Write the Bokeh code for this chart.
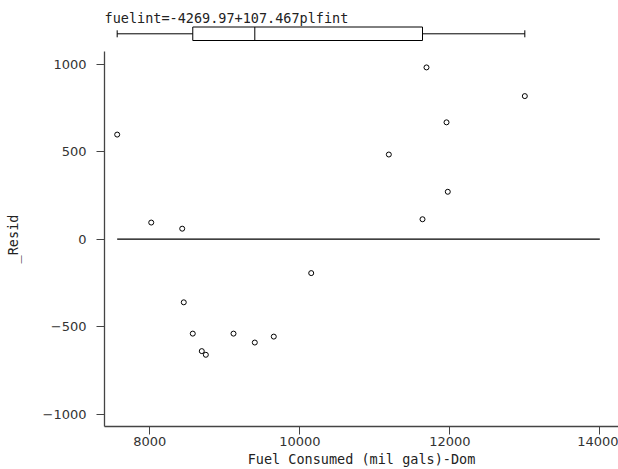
from bokeh.plotting import figure
from bokeh.models import Range1d, FixedTicker, Label, LinearAxis
from bokeh.layouts import column
from bokeh.embed import file_html
from bokeh.resources import INLINE
import numpy as np

# data
fuel = [7565, 8019, 8432, 8453, 8573, 8693, 8747, 9116, 9400, 9653, 10152,
        11187, 11636, 11689, 11956, 11973, 13000]
resid = [598, 95, 60, -361, -540, -640, -661, -540, -591, -557, -194,
         484, 114, 982, 668, 271, 818]
x_ticks = [8000, 10000, 12000, 14000]
y_ticks = [-1000, -500, 0, 500, 1000]
title_text = "fuelint=-4269.97+107.467plfint"
x_label = "Fuel Consumed (mil gals)-Dom"
y_label = "_Resid"
zero_line_end = 14000

MONO = "DejaVu Sans Mono"
SANS = "DejaVu Sans"
AX = "#444444"
W = 618
LEFT = 104
X0, X1 = 7396, 14249
xr = Range1d(X0, X1)

# ---- top strip: equation + box plot of x ----
TOP_H = 51
top = figure(width=W, height=TOP_H, output_backend="svg", toolbar_location=None,
             x_range=xr, y_range=Range1d(start=TOP_H, end=0),
             min_border_left=LEFT, min_border_right=0, min_border_top=0,
             min_border_bottom=0, x_axis_location=None, y_axis_location=None)
top.outline_line_color = None
top.xgrid.visible = False
top.ygrid.visible = False

q0, q1, q2, q3, q4 = np.percentile(fuel, [0, 25, 50, 75, 100])
btop, bbot, bmid = 26.5, 40, 33.3
top.quad(left=[q1], right=[q3], top=[btop], bottom=[bbot],
         fill_color=None, line_color="black", line_width=1)
top.segment(x0=[q2], x1=[q2], y0=[btop], y1=[bbot],
            line_color="black", line_width=1)
top.segment(x0=[q0, q3], x1=[q1, q4], y0=[bmid, bmid], y1=[bmid, bmid],
            line_color="black", line_width=1)
top.segment(x0=[q0, q4], x1=[q0, q4], y0=[bmid - 3.5, bmid - 3.5],
            y1=[bmid + 3.5, bmid + 3.5], line_color="black", line_width=1)
top.add_layout(Label(x=X0, y=17.5, text=title_text, text_font=MONO,
                     text_font_size="13.5px", text_color="#222222",
                     text_baseline="alphabetic", text_align="left"))

# ---- main scatter ----
p = figure(width=W, height=469 - TOP_H, output_backend="svg", toolbar_location=None,
           x_range=xr, y_range=Range1d(-1071, 1073),
           min_border_left=LEFT, min_border_right=0, min_border_top=0,
           min_border_bottom=42, x_axis_location=None, y_axis_location=None)
p.outline_line_color = None
p.xgrid.visible = False
p.ygrid.visible = False

xa = LinearAxis(ticker=FixedTicker(ticks=x_ticks), axis_label=x_label)
ya = LinearAxis(ticker=FixedTicker(ticks=y_ticks), axis_label=y_label)
for ax in (xa, ya):
    ax.axis_line_color = AX
    ax.axis_line_width = 1.3
    ax.major_tick_line_color = AX
    ax.major_tick_in = 0
    ax.major_tick_out = 8
    ax.minor_tick_line_color = None
    ax.major_label_text_font = SANS
    ax.major_label_text_font_size = "13px"
    ax.major_label_text_color = "#333333"
    ax.axis_label_text_font = MONO
    ax.axis_label_text_font_size = "13.5px"
    ax.axis_label_text_font_style = "normal"
    ax.axis_label_text_color = "#222222"
xa.major_label_standoff = 2
xa.axis_label_standoff = 2
ya.major_label_standoff = 10
ya.axis_label_standoff = 19
p.add_layout(xa, "below")
p.add_layout(ya, "left")

p.line([min(fuel), zero_line_end], [0, 0], line_color="black", line_width=1.3)
p.scatter(fuel, resid, marker="circle", size=5, fill_color=None,
          line_color="black", line_width=1)

layout = column(top, p, spacing=0)
open("out.html", "w").write(file_html(layout, INLINE))
